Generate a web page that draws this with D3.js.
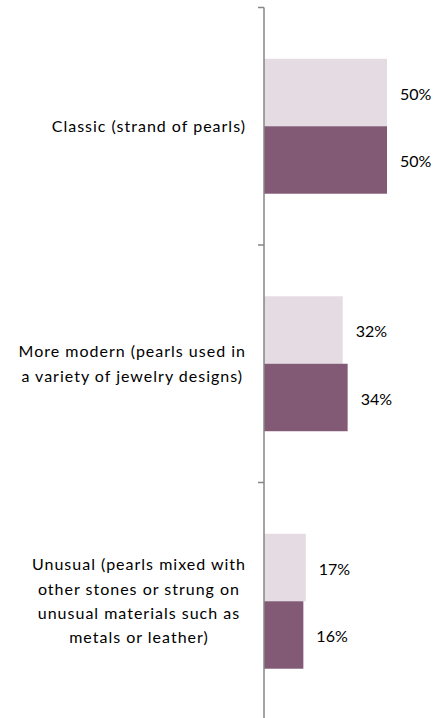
<!DOCTYPE html>
<html>
<head>
<meta charset="utf-8">
<script src="https://cdn.jsdelivr.net/npm/d3@7"></script>
<style>
  body { margin: 0; background: #fff; }
  text { font-family: Lato, "Open Sans", sans-serif; fill: #000; }
</style>
</head>
<body>
<div id="container"></div>
<script>
var categories = ["Classic", "More modern", "Unusual"];
var categoryLines = [
  ["Classic (strand of pearls)"],
  ["More modern (pearls used in", "a variety of jewelry designs)"],
  ["Unusual (pearls mixed with", "other stones or strung on", "unusual materials such as", "metals or leather)"]
];
var seriesNames = ["Series 1", "Series 2"];
var series1 = [50, 32, 17];
var series2 = [50, 34, 16];
var colors = ["#e5dbe3", "#825a76"];

var width = 435, height = 718;
var axisX = 264;

var svg = d3.select("#container")
  .append("svg")
    .attr("width", width)
    .attr("height", height);

// category bands, ticks sit on the band edges
var y = d3.scaleBand()
  .domain(categories)
  .range([7.5, 720])
  .paddingInner(0)
  .paddingOuter(0);

var ySub = d3.scaleBand()
  .domain(seriesNames)
  .range([0, y.bandwidth()])
  .paddingInner(0)
  .paddingOuter(0.76);

var x = d3.scaleLinear()
  .domain([0, 100])
  .range([axisX, axisX + 246]);

var rows = categories.map(function (c, i) {
  return { cat: c, lines: categoryLines[i], values: [series1[i], series2[i]] };
});

// bars
var groups = svg.selectAll("g.grp")
  .data(rows)
  .enter()
  .append("g")
    .attr("class", "grp")
    .attr("transform", function (d) { return "translate(0," + y(d.cat) + ")"; });

groups.selectAll("rect")
  .data(function (d) { return d.values.map(function (v, j) { return { v: v, s: seriesNames[j], j: j }; }); })
  .enter()
  .append("rect")
    .attr("x", x(0))
    .attr("y", function (d) { return ySub(d.s); })
    .attr("width", function (d) { return x(d.v) - x(0); })
    .attr("height", ySub.bandwidth())
    .attr("fill", function (d) { return colors[d.j]; });

groups.selectAll("text.val")
  .data(function (d) { return d.values.map(function (v, j) { return { v: v, s: seriesNames[j] }; }); })
  .enter()
  .append("text")
    .attr("class", "val")
    .attr("x", function (d) { return x(d.v) + 13; })
    .attr("y", function (d) { return ySub(d.s) + ySub.bandwidth() / 2 + 1.5; })
    .attr("dy", "0.35em")
    .attr("font-size", "16px")
    .text(function (d) { return d.v + "%"; });

// axis line and ticks
var edges = categories.map(function (c) { return y(c); }).concat([y.range()[1]]);
svg.append("line")
  .attr("x1", axisX).attr("x2", axisX)
  .attr("y1", y.range()[0]).attr("y2", y.range()[1])
  .attr("stroke", "#868686")
  .attr("stroke-width", 1.5);
svg.selectAll("line.tick")
  .data(edges)
  .enter()
  .append("line")
    .attr("class", "tick")
    .attr("x1", axisX - 6).attr("x2", axisX)
    .attr("y1", function (d) { return d; })
    .attr("y2", function (d) { return d; })
    .attr("stroke", "#868686")
    .attr("stroke-width", 1.5);

// category labels: block right-aligned, lines centred in block
var lineH = 24.4;
var labelRight = axisX - 18;
rows.forEach(function (d) {
  var g = svg.append("g");
  var cy = y(d.cat) + y.bandwidth() / 2;
  var n = d.lines.length;
  var texts = g.selectAll("text")
    .data(d.lines)
    .enter()
    .append("text")
      .attr("font-size", "16px")
      .attr("letter-spacing", "1px")
      .attr("text-anchor", "middle")
      .attr("y", function (l, k) { return cy + (k - (n - 1) / 2) * lineH; })
      .attr("dy", "0.35em")
      .text(function (l) { return l; });
  var maxW = 0;
  texts.each(function () { maxW = Math.max(maxW, this.getComputedTextLength()); });
  texts.attr("x", labelRight - maxW / 2);
});
</script>
</body>
</html>
